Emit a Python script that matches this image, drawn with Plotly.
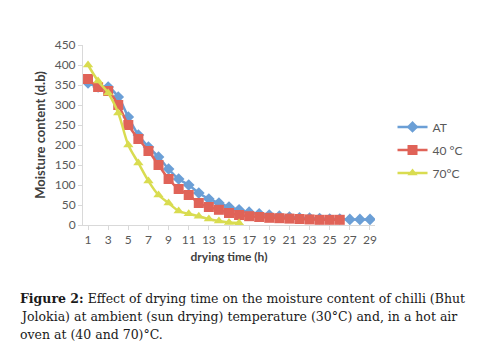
import plotly.graph_objects as go

hours_at = list(range(1, 30))
at_vals = [355, 345, 345, 320, 270, 225, 195, 170, 140, 115, 100, 80, 65, 55, 45,
           38, 32, 28, 25, 22, 20, 18, 17, 16, 15, 15, 14, 14, 14]
hours_40 = list(range(1, 27))
c40_vals = [365, 345, 335, 300, 250, 215, 185, 150, 115, 90, 75, 55, 45, 38, 30,
            25, 22, 20, 18, 17, 16, 15, 14, 13, 13, 13]
hours_70 = list(range(1, 17))
c70_vals = [400, 360, 330, 280, 200, 155, 110, 75, 55, 35, 28, 22, 15, 10, 6, 5]
x_ticks = list(range(1, 30, 2))
y_ticks = list(range(0, 451, 50))

fig = go.Figure()
fig.add_trace(go.Scatter(x=hours_at, y=at_vals, name="AT", mode="lines+markers", legendgroup="a",
                         line=dict(color="#6b9fd6", width=2.5, shape="spline"),
                         marker=dict(symbol="diamond", size=9, color="#6b9fd6")))
fig.add_trace(go.Scatter(x=hours_40, y=c40_vals, name="40 °C", mode="lines+markers", legendgroup="b",
                         line=dict(color="#e06358", width=2.5, shape="spline"),
                         marker=dict(symbol="square", size=10, color="#e06358")))
fig.add_trace(go.Scatter(x=hours_70, y=c70_vals, name="70°C", mode="lines+markers", legendgroup="c",
                         line=dict(color="#d9dc50", width=2.5, shape="spline"),
                         marker=dict(symbol="triangle-up", size=9, color="#d9dc50")))

sans = "Lato, Open Sans, sans-serif"
axis_font = dict(family=sans, size=12, color="#595959")
fig.update_layout(
    width=481, height=354,
    margin=dict(l=83, r=106, t=45, b=129),
    paper_bgcolor="white", plot_bgcolor="white",
    showlegend=True,
    legend=dict(x=1.06, y=0.417, xanchor="left", yanchor="middle",
                font=dict(family=sans, size=12, color="#595959"),
                itemwidth=30, tracegroupgap=4, bgcolor="rgba(0,0,0,0)"),
    xaxis=dict(range=[0.5, 29.5], tickmode="array", tickvals=x_ticks,
               ticktext=[str(v) for v in x_ticks], showgrid=False, zeroline=False,
               showline=True, linecolor="#d9d9d9", linewidth=1,
               ticks="outside", ticklen=4, tickcolor="#d9d9d9", tickfont=axis_font,
               title=dict(text="<b>drying time (h)</b>", font=dict(family=sans, size=12, color="#404040"), standoff=6)),
    yaxis=dict(range=[0, 450], tickmode="array", tickvals=y_ticks, showgrid=False,
               zeroline=False, showline=True, linecolor="#d9d9d9", linewidth=1,
               ticks="outside", ticklen=4, tickcolor="#d9d9d9", tickfont=axis_font,
               title=dict(text="<b>Moisture content (d.b)</b>", font=dict(family=sans, size=13, color="#404040"), standoff=6)),
)

caption_lines = [
    "<b>Figure 2:</b> Effect of drying time on the moisture content of chilli (Bhut",
    "Jolokia) at ambient (sun drying) temperature (30°C) and, in a hot air",
    "oven at (40 and 70)°C.",
]
for i, line in enumerate(caption_lines):
    fig.add_annotation(text=line, xref="paper", yref="paper",
                       x=-0.2226, y=-0.406 - 0.1 * i, xanchor="left", yanchor="middle",
                       showarrow=False,
                       font=dict(family="DejaVu Serif, Liberation Serif, serif", size=12.5, color="#1a1a1a"))

fig.write_html("out.html")
